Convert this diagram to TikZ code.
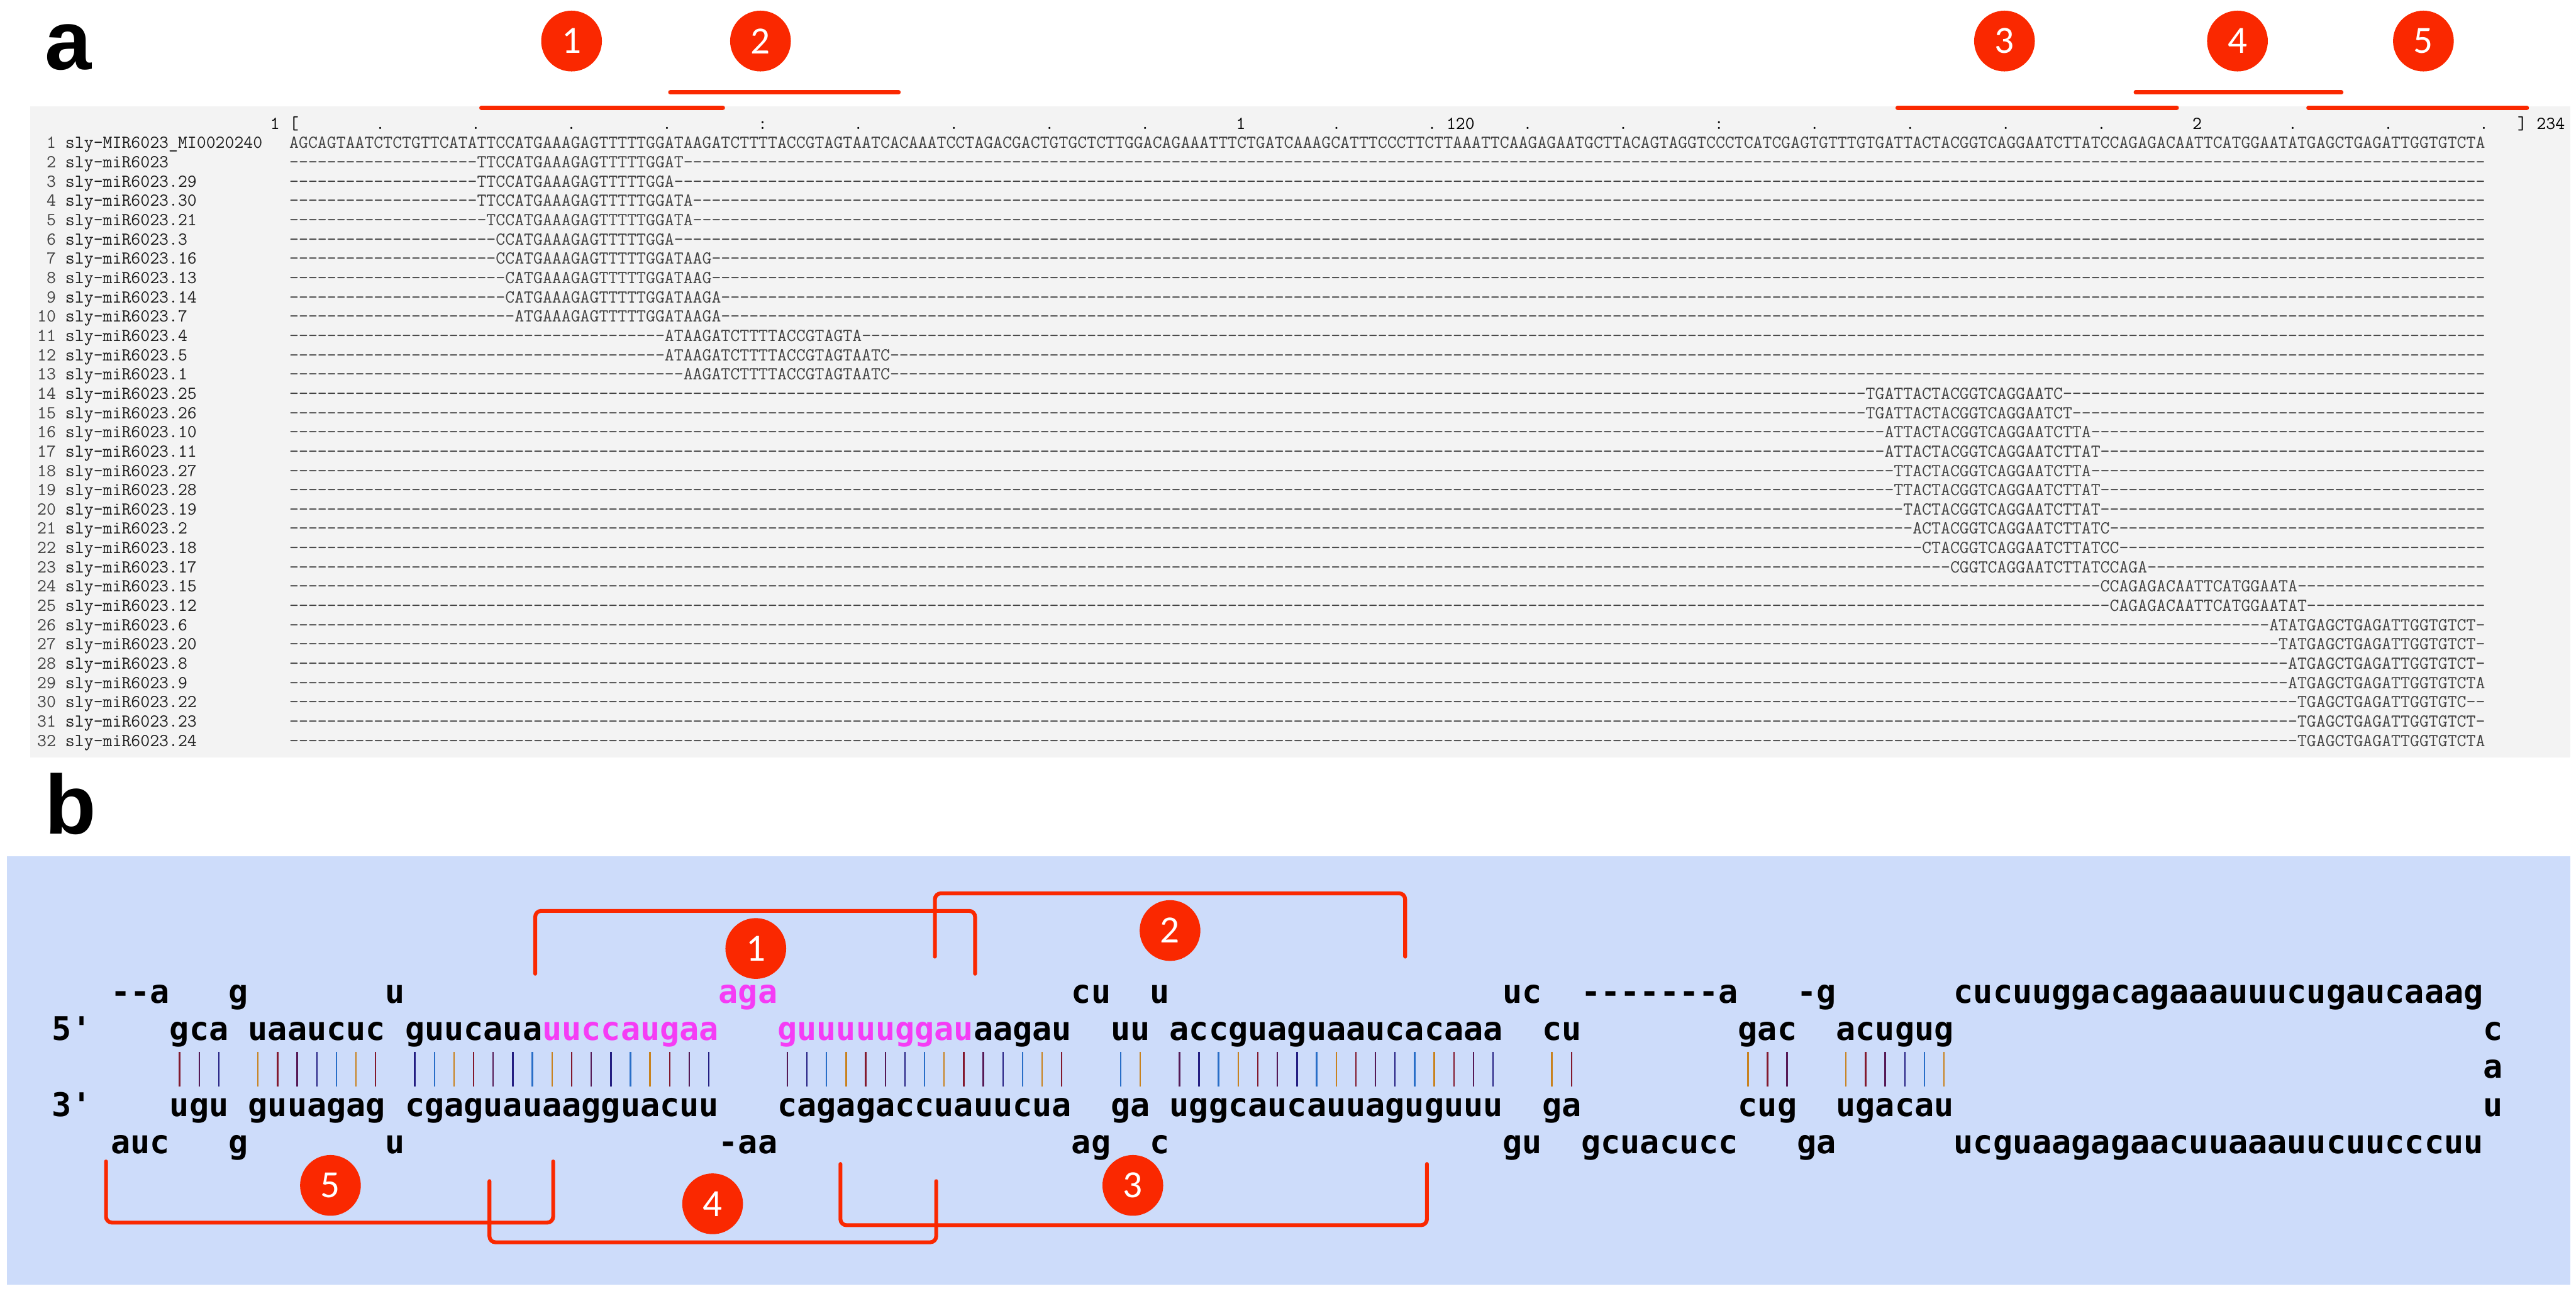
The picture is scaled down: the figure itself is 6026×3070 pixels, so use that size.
\documentclass[tikz,border=0pt]{standalone}
\usepackage{fontspec}
\usetikzlibrary{positioning}
\newfontfamily\stemfont{DejaVu Sans Mono}
\newfontfamily\panelfont{Liberation Sans}
\newfontfamily\badgefont{Carlito}
\definecolor{alnGray} {RGB}{243,243,243}
\definecolor{stemBlue}{RGB}{205,220,250}
\definecolor{markRed} {RGB}{250,40,0}
\definecolor{matMag}  {RGB}{245,60,245}
\definecolor{bpNavy}  {RGB}{35,30,130}
\definecolor{bpSteel} {RGB}{40,110,200}
\definecolor{bpOrange}{RGB}{200,130,30}
\definecolor{bpMaroon}{RGB}{130,25,45}
\definecolor{bpPlum}  {RGB}{85,25,85}
\ExplSyntaxOn
\NewDocumentCommand\gaps{m}{\prg_replicate:nn{#1}{-\kern0pt}}
\ExplSyntaxOff
\newcommand\gp{-\kern0pt}
\begin{document}
\begin{tikzpicture}[x=0.01cm,y=-0.01cm,
    txt/.style={inner sep=0pt,outer sep=0pt,anchor=base west},
    aln/.style={txt,font=\fontsize{12.12}{14}\selectfont\ttfamily,text=black!74},
    alnname/.style={aln,text=black!88},
    ruler/.style={aln,text=black},
    stem/.style={txt,font=\fontsize{21.67}{24}\selectfont\stemfont\bfseries},
    panel/.style={txt,font=\fontsize{55.8}{60}\selectfont\panelfont\bfseries},
    badge/.style={circle,fill=markRed,inner sep=0pt,minimum size=1.42cm,
                  font=\fontsize{25.6}{28}\selectfont\badgefont,text=white},
    redmark/.style={draw=markRed,line width=0.09cm,line cap=round,rounded corners=0.14cm},
    bar/.style={line width=0.035cm}]
  \useasboundingbox (0,0) rectangle (6026,3070);

  % panel a: alignment
  \node[panel] (pa) at (105,163) {a};
  \fill[alnGray] (71,249) rectangle (6012,1772);
  \draw[redmark,line width=0.1cm]
    (1126,252) -- (1691,252)  (1568,216) -- (2102,216)
    (4439,252) -- (5092,252)  (4996,216) -- (5477,216)
    (5400,252) -- (5911,252);
  \node[badge] (ca1) at (1337,96) {1};
  \node[badge] (ca2) at (1779,96) {2};
  \node[badge] (ca3) at (4689,96) {3};
  \node[badge] (ca4) at (5234,96) {4};
  \node[badge] (ca5) at (5669,96) {5};

  \foreach \i/\t in {-1/1,1/{[},10/.,20/.,30/.,40/.,50/:,60/.,70/.,80/.,90/.,
                     100/1,110/.,120/.,122/120,130/.,140/.,150/:,160/.,170/.,
                     180/.,190/.,200/2,210/.,220/.,230/.,234/{]},236/234}
    \node[ruler] (tk\i) at ({677+(\i-1)*22.37},302) {\t};

  \node[aln,anchor=base east] (num1) at (131,347) {1};
  \node[alnname] (nm1) at (153,347) {sly-MIR6023\_MI0020240};
  \node[aln] (sq1) at (677,347) {AGCAGTAATCTCTGTTCATATTCCATGAAAGAGTTTTTGGATAAGATCTTTTACCGTAGTAATCACAAATCCTAGACGACTGTGCTCTTGGACAGAAATTTCTGATCAAAGCATTTCCCTTCTTAAATTCAAGAGAATGCTTACAGTAGGTCCCTCATCGAGTGTTTGTGATTACTACGGTCAGGAATCTTATCCAGAGACAATTCATGGAATATGAGCTGAGATTGGTGTCTA};
  \foreach \k/\nm/\ld/\sq/\tr in {
      2/sly-miR6023/20/TTCCATGAAAGAGTTTTTGGAT/192,
      3/sly-miR6023.29/20/TTCCATGAAAGAGTTTTTGGA/193,
      4/sly-miR6023.30/20/TTCCATGAAAGAGTTTTTGGATA/191,
      5/sly-miR6023.21/21/TCCATGAAAGAGTTTTTGGATA/191,
      6/sly-miR6023.3/22/CCATGAAAGAGTTTTTGGA/193,
      7/sly-miR6023.16/22/CCATGAAAGAGTTTTTGGATAAG/189,
      8/sly-miR6023.13/23/CATGAAAGAGTTTTTGGATAAG/189,
      9/sly-miR6023.14/23/CATGAAAGAGTTTTTGGATAAGA/188,
      10/sly-miR6023.7/24/ATGAAAGAGTTTTTGGATAAGA/188,
      11/sly-miR6023.4/40/ATAAGATCTTTTACCGTAGTA/173,
      12/sly-miR6023.5/40/ATAAGATCTTTTACCGTAGTAATC/170,
      13/sly-miR6023.1/42/AAGATCTTTTACCGTAGTAATC/170,
      14/sly-miR6023.25/168/TGATTACTACGGTCAGGAATC/45,
      15/sly-miR6023.26/168/TGATTACTACGGTCAGGAATCT/44,
      16/sly-miR6023.10/170/ATTACTACGGTCAGGAATCTTA/42,
      17/sly-miR6023.11/170/ATTACTACGGTCAGGAATCTTAT/41,
      18/sly-miR6023.27/171/TTACTACGGTCAGGAATCTTA/42,
      19/sly-miR6023.28/171/TTACTACGGTCAGGAATCTTAT/41,
      20/sly-miR6023.19/172/TACTACGGTCAGGAATCTTAT/41,
      21/sly-miR6023.2/173/ACTACGGTCAGGAATCTTATC/40,
      22/sly-miR6023.18/174/CTACGGTCAGGAATCTTATCC/39,
      23/sly-miR6023.17/177/CGGTCAGGAATCTTATCCAGA/36,
      24/sly-miR6023.15/193/CCAGAGACAATTCATGGAATA/20,
      25/sly-miR6023.12/194/CAGAGACAATTCATGGAATAT/19,
      26/sly-miR6023.6/211/ATATGAGCTGAGATTGGTGTCT/1,
      27/sly-miR6023.20/212/TATGAGCTGAGATTGGTGTCT/1,
      28/sly-miR6023.8/213/ATGAGCTGAGATTGGTGTCT/1,
      29/sly-miR6023.9/213/ATGAGCTGAGATTGGTGTCTA/0,
      30/sly-miR6023.22/214/TGAGCTGAGATTGGTGTC/2,
      31/sly-miR6023.23/214/TGAGCTGAGATTGGTGTCT/1,
      32/sly-miR6023.24/214/TGAGCTGAGATTGGTGTCTA/0}{
    \pgfmathsetmacro\yy{347+(\k-1)*45.1}
    \node[aln,anchor=base east] (num\k) at (131,\yy) {\k};
    \node[alnname] (nm\k) at (153,\yy) {\nm};
    \node[aln] (sq\k) at (677,\yy) {\gaps{\ld}\sq\gaps{\tr}};
  }

  % panel b: hairpin
  \node[panel] (pb) at (105,1950) {b};
  \fill[stemBlue] (16,2003) rectangle (6012,3004);

  \foreach \c/\s in {3/{\gp\gp a},9/g,17/u,34/{\textcolor{matMag}{aga}},52/cu,56/u,74/uc,
                     78/{\gp\gp\gp\gp\gp\gp\gp a},89/{\gp g},97/cucuuggacagaaauuucugaucaaag}
    \node[stem] (t\c) at ({122+\c*45.86},2346) {\s};
  \foreach \c/\s in {0/5',6/gca,10/uaaucuc,18/{guucaua\textcolor{matMag}{uuccaugaa}},
                     37/{\textcolor{matMag}{guuuuuggau}aagau},54/uu,57/accguaguaaucacaaa,
                     76/cu,86/gac,91/acugug,124/c}
    \node[stem] (p\c) at ({122+\c*45.86},2432) {\s};
  \node[stem] (m124) at ({122+124*45.86},2521) {a};
  \foreach \c/\s in {0/3',6/ugu,10/guuagag,18/cgaguauaagguacuu,37/cagagaccuauucua,
                     54/ga,57/uggcaucauuaguguuu,76/ga,86/cug,91/ugacau,124/u}
    \node[stem] (b\c) at ({122+\c*45.86},2610) {\s};
  \foreach \c/\s in {3/auc,9/g,17/u,34/{\gp aa},52/ag,56/c,74/gu,78/gcuacucc,89/ga,
                     97/ucguaagagaacuuaaauucuucccuu}
    \node[stem] (u\c) at ({122+\c*45.86},2697) {\s};

  % base-pair ticks
  \foreach \ca/\cb in {6/8,10/16,18/33,37/51,54/55,57/73,76/77,86/88,91/96}
    \foreach \c in {\ca,...,\cb}{
      \pgfmathtruncatemacro\ci{\c<74 ? mod(\c+2,5) : mod(\c+1,5)}
      \edef\bc{\ifcase\ci bpNavy\or bpSteel\or bpOrange\or bpMaroon\or bpPlum\fi}
      \draw[bar,draw=\bc] ({122+(\c+0.5)*45.86},2460) -- ({122+(\c+0.5)*45.86},2541);
    }

  \draw[redmark] (1252,2277) -- (1252,2130) -- (2281,2130) -- (2281,2277);
  \draw[redmark] (2187,2237) -- (2187,2089) -- (3287,2089) -- (3287,2237);
  \draw[redmark] (248,2716) -- (248,2859) -- (1294,2859) -- (1294,2716);
  \draw[redmark] (1145,2762) -- (1145,2905) -- (2190,2905) -- (2190,2762);
  \draw[redmark] (1966,2722) -- (1966,2865) -- (3338,2865) -- (3338,2722);
  \node[badge] (cb1) at (1768,2218) {1};
  \node[badge] (cb2) at (2737,2176) {2};
  \node[badge] (cb3) at (2650,2772) {3};
  \node[badge] (cb4) at (1667,2815) {4};
  \node[badge] (cb5) at (773,2772) {5};
\end{tikzpicture}
\end{document}
